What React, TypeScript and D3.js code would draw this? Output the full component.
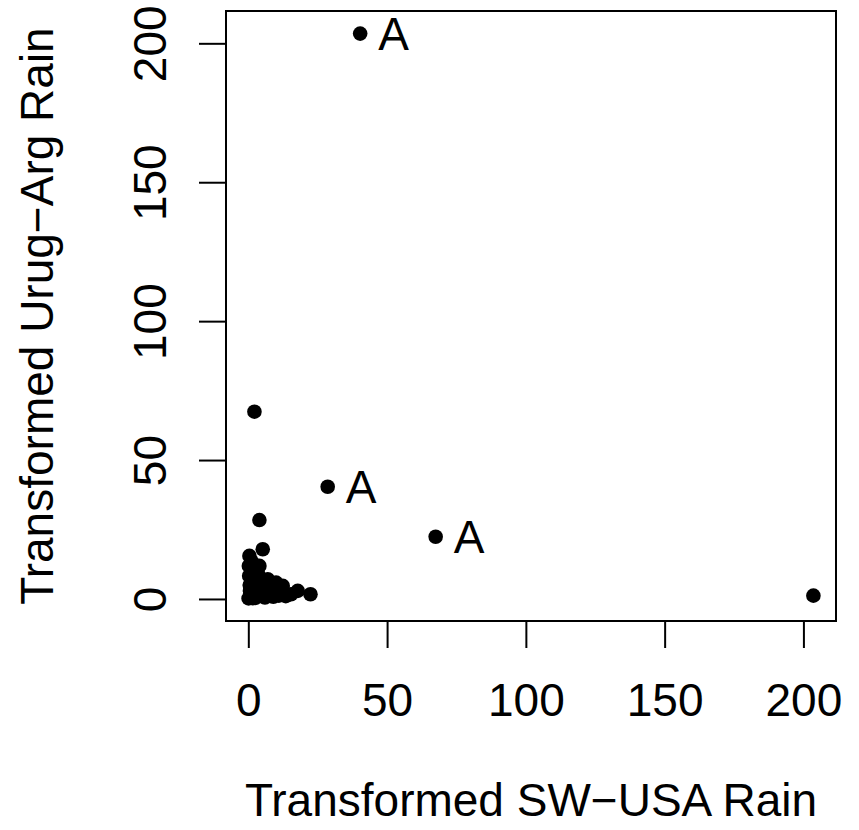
import React, { useEffect, useRef } from 'react';
import { select, scaleLinear, extent, axisBottom, axisLeft } from 'd3';

// transformed rainfall pairs
const swUsa = [
  40.3, 203.6, 28.6, 67.5, 2.2, 4.0, 5.2, 0.4, 0.2, 0.3, 0.5, 0.8, 4.0, 3.4,
  7.0, 10.0, 12.4, 17.8, 22.4, 15.4, 1.2, 1.6, 2.0, 2.5, 3.0, 1.0, 0.6, 5.5,
  6.5, 8.0, 9.0, 11.0, 13.5, 1.5, 2.8, 3.6, 4.5, 0.1, 1.8, 2.2, 0.9, 6.0, 7.5,
  9.5, 1.3, 2.6, 3.2, 0.7, 5.0, 4.2
];
const urugArg = [
  203.5, 1.2, 40.4, 22.4, 67.4, 28.4, 17.9, 15.5, 11.9, 8.3, 5.0, 1.1, 11.9,
  9.5, 7.1, 5.9, 4.7, 2.9, 1.7, 1.7, 13.5, 10.0, 6.5, 3.5, 2.0, 0.6, 3.0, 3.2,
  1.5, 2.2, 0.8, 1.2, 1.0, 0.3, 4.2, 5.5, 2.5, 0.2, 7.8, 4.0, 1.8, 0.5, 2.4,
  1.6, 0.9, 0.4, 6.0, 2.8, 1.0, 3.6
];
const flagged = [0, 2, 3];
const tickValues = [0, 50, 100, 150, 200];
const xTitle = 'Transformed SW\u2212USA Rain';
const yTitle = 'Transformed Urug\u2212Arg Rain';

function App() {
  const ref = useRef<SVGSVGElement>(null);

  useEffect(() => {
    const svg = select(ref.current);
    svg.selectAll('*').remove();

    const box = { left: 226, right: 836, top: 11, bottom: 621 };
    const font = 'Liberation Sans, Arial, Helvetica, sans-serif';
    const fs = 46;

    // R style 4% padding around the data range
    const pad = (d: [number, number]) => {
      const r = d[1] - d[0];
      return [d[0] - 0.04 * r, d[1] + 0.04 * r];
    };
    const xScale = scaleLinear()
      .domain(pad(extent(swUsa) as [number, number]))
      .range([box.left, box.right]);
    const yScale = scaleLinear()
      .domain(pad(extent(urugArg) as [number, number]))
      .range([box.bottom, box.top]);

    // x axis
    const gx = svg.append('g')
      .attr('transform', `translate(0, ${box.bottom})`)
      .call(axisBottom(xScale).tickValues(tickValues).tickSize(27).tickPadding(0));
    gx.select('.domain').remove();
    gx.selectAll('line').attr('stroke', '#000').attr('stroke-width', 2);
    gx.selectAll('text')
      .attr('y', 79)
      .attr('dy', null)
      .attr('dominant-baseline', 'central')
      .attr('font-family', font)
      .attr('font-size', fs)
      .attr('fill', '#000');

    // y axis
    const gy = svg.append('g')
      .attr('transform', `translate(${box.left}, 0)`)
      .call(axisLeft(yScale).tickValues(tickValues).tickSize(27));
    gy.select('.domain').remove();
    gy.selectAll('line').attr('stroke', '#000').attr('stroke-width', 2);
    gy.selectAll('text')
      .attr('x', null)
      .attr('y', 0)
      .attr('dy', null)
      .attr('transform', `translate(${150 - box.left}, 0) rotate(-90)`)
      .attr('text-anchor', 'middle')
      .attr('dominant-baseline', 'central')
      .attr('font-family', font)
      .attr('font-size', fs)
      .attr('fill', '#000');

    // box
    svg.append('rect')
      .attr('x', box.left)
      .attr('y', box.top)
      .attr('width', box.right - box.left)
      .attr('height', box.bottom - box.top)
      .attr('fill', 'none')
      .attr('stroke', '#000')
      .attr('stroke-width', 2);

    // points
    svg.append('g')
      .selectAll('circle')
      .data(swUsa.map((x, i) => ({ x, y: urugArg[i] })))
      .join('circle')
      .attr('cx', d => xScale(d.x))
      .attr('cy', d => yScale(d.y))
      .attr('r', 7.3)
      .attr('fill', '#000');

    // "A" labels
    svg.append('g')
      .selectAll('text')
      .data(flagged)
      .join('text')
      .attr('x', i => xScale(swUsa[i]) + 18)
      .attr('y', i => yScale(urugArg[i]))
      .attr('dominant-baseline', 'central')
      .attr('font-family', font)
      .attr('font-size', fs)
      .text('A');

    // titles
    svg.append('text')
      .attr('x', (box.left + box.right) / 2)
      .attr('y', 800)
      .attr('text-anchor', 'middle')
      .attr('dominant-baseline', 'central')
      .attr('font-family', font)
      .attr('font-size', fs)
      .text(xTitle);

    svg.append('text')
      .attr('transform', `translate(37, ${(box.top + box.bottom) / 2}) rotate(-90)`)
      .attr('text-anchor', 'middle')
      .attr('dominant-baseline', 'central')
      .attr('font-family', font)
      .attr('font-size', fs)
      .text(yTitle);
  }, []);

  return (
    <svg
      ref={ref}
      width={859}
      height={830}
      style={{ position: 'absolute', left: 0, top: 0, background: '#fff' }}
    />
  );
}

export default App;
